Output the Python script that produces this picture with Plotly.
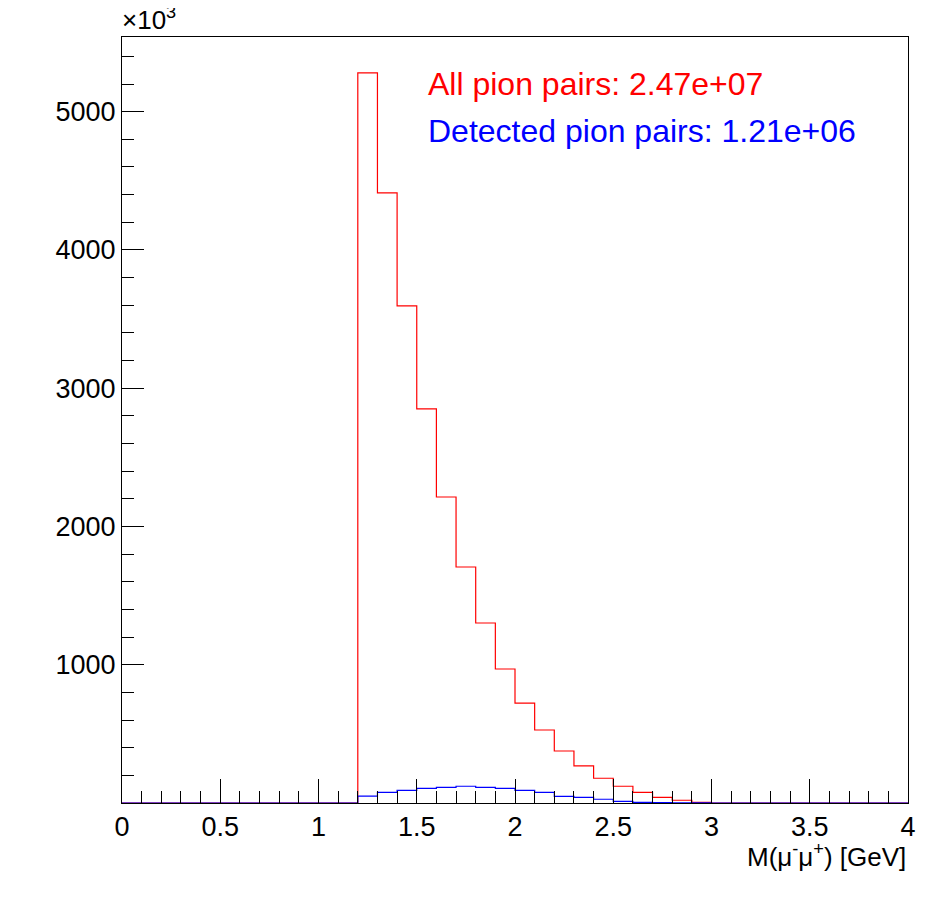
import plotly.graph_objects as go

# bin edges 0..4 in steps of 0.1 (40 bins)
edges = [round(i * 0.1, 1) for i in range(41)]

# counts in units of 10^3
all_pairs = [0] * 12 + [5280, 4412, 3595, 2850, 2213, 1707, 1302, 969, 723, 528,
                        376, 268, 179, 121, 77, 41, 20, 5] + [0] * 10
detected = [0] * 12 + [50, 77, 92, 106, 113, 121, 113, 106, 92, 77,
                       48, 41, 27, 12, 5, 2, 1, 1] + [0] * 10

fig = go.Figure()
fig.add_trace(go.Scatter(x=edges, y=all_pairs + [all_pairs[-1]], mode="lines",
                         line=dict(color="red", width=1.2, shape="hv"), showlegend=False))
fig.add_trace(go.Scatter(x=edges, y=detected + [detected[-1]], mode="lines",
                         line=dict(color="blue", width=1.2, shape="hv"), showlegend=False))

font = "Liberation Sans, Arial, sans-serif"
fig.update_layout(
    width=946, height=922, plot_bgcolor="white", paper_bgcolor="white",
    margin=dict(l=114, r=46, t=29, b=127),
    font=dict(family=font, size=27, color="black"),
    xaxis=dict(range=[0, 4], dtick=0.5, tick0=0, ticks="inside", ticklen=24, tickcolor="black",
               showgrid=False, zeroline=False, showline=True, linecolor="black", mirror=True,
               tickformat="~g",
               minor=dict(dtick=0.1, ticks="inside", ticklen=12, tickcolor="black")),
    yaxis=dict(range=[0, 5540], ticks="inside", ticklen=22, tickcolor="black",
               showgrid=False, zeroline=False, showline=True, linecolor="black", mirror=True,
               tickvals=[1000, 2000, 3000, 4000, 5000],
               minor=dict(dtick=200, ticks="inside", ticklen=12, tickcolor="black")),
    annotations=[
        dict(x=-0.003, y=1, xref="paper", yref="paper", text="×10<sup>3</sup>", showarrow=False,
             xanchor="left", yanchor="bottom", font=dict(size=26)),
        dict(x=1, y=-0.045, xref="paper", yref="paper", text="M(μ<sup>-</sup>μ<sup>+</sup>) [GeV]",
             showarrow=False, xanchor="right", yanchor="top", font=dict(size=26)),
        dict(x=(426 - 122) / 786, y=5200, xref="paper", yref="y", text="All pion pairs: 2.47e+07",
             showarrow=False, xanchor="left", font=dict(size=32, color="red")),
        dict(x=(426 - 122) / 786, y=4860, xref="paper", yref="y", text="Detected pion pairs: 1.21e+06",
             showarrow=False, xanchor="left", font=dict(size=32, color="blue")),
    ],
)

fig.write_html("out.html")
